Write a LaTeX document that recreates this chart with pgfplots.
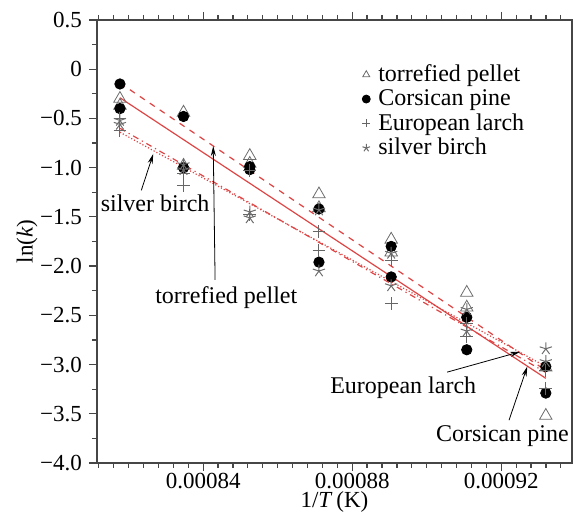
\documentclass[border=0pt]{standalone}
\usepackage{fontspec}
\setmainfont{Liberation Serif}
\usepackage{pgfplots}
\pgfplotsset{compat=1.18}
\usetikzlibrary{arrows.meta,calc}
\definecolor{fitred}{RGB}{222,70,70}
\definecolor{axgray}{RGB}{70,70,70}

% ln(k) against 1/T, two runs per temperature
\pgfplotstableread{
x y
0.00081766 -0.30
0.00081766 -0.37
0.00083472 -0.44
0.00083472 -0.98
0.00085251 -0.88
0.00085251 -0.96
0.00087108 -1.27
0.00087108 -1.41
0.00089047 -1.73
0.00089047 -1.86
0.00091075 -2.27
0.00091075 -2.42
0.00093197 -3.03
0.00093197 -3.52
}\pellet
\pgfplotstableread{
x y
0.00081766 -0.15
0.00081766 -0.40
0.00083472 -0.48
0.00083472 -1.00
0.00085251 -0.99
0.00085251 -1.02
0.00087108 -1.42
0.00087108 -1.96
0.00089047 -1.80
0.00089047 -2.11
0.00091075 -2.52
0.00091075 -2.85
0.00093197 -3.02
0.00093197 -3.29
}\pine
\pgfplotstableread{
x y
0.00081766 -0.62
0.00081766 -0.50
0.00083472 -1.06
0.00083472 -1.18
0.00085251 -1.03
0.00085251 -1.48
0.00087108 -1.65
0.00087108 -1.84
0.00089047 -1.94
0.00089047 -2.38
0.00091075 -2.58
0.00091075 -2.72
0.00093197 -3.06
0.00093197 -3.24
}\larch
\pgfplotstableread{
x y
0.00081766 -0.52
0.00081766 -0.56
0.00083472 -0.97
0.00083472 -1.02
0.00085251 -1.45
0.00085251 -1.51
0.00087108 -1.43
0.00087108 -2.05
0.00089047 -1.87
0.00089047 -2.20
0.00091075 -2.44
0.00091075 -2.66
0.00093197 -2.84
0.00093197 -2.97
}\birch

\begin{document}
\begin{tikzpicture}
\begin{axis}[
    scale only axis,
    width=237.5pt, height=221.5pt,
    xmin=0.0008115, xmax=0.000939,
    ymin=-4, ymax=0.5,
    scaled x ticks=false,
    xtick={0.00084,0.00088,0.00092},
    xticklabels={0.00084,0.00088,0.00092},
    minor xtick={0.000812,0.000816,0.00082,0.000824,0.000828,0.000832,0.000836,
        0.000844,0.000848,0.000852,0.000856,0.00086,0.000864,0.000868,0.000872,0.000876,
        0.000884,0.000888,0.000892,0.000896,0.0009,0.000904,0.000908,0.000912,0.000916,
        0.000924,0.000928,0.000932,0.000936},
    ytick={-4,-3.5,...,0.5},
    yticklabels={−4.0,−3.5,−3.0,−2.5,−2.0,−1.5,−1.0,−0.5,0,0.5},
    minor y tick num=1,
    xtick pos=both, ytick pos=left,
    tick align=outside,
    major tick length=4pt, minor tick length=2.5pt,
    axis line style={axgray, line width=0.8pt},
    tick style={axgray, line width=0.6pt},
    ticklabel style={font=\fontsize{11.5}{13}\selectfont},
    xticklabel style={yshift=1.3pt, inner ysep=2pt},
    xlabel={1/\textit{T}\,(K)},
    ylabel={ln(\textit{k})},
    label style={font=\fontsize{11.5}{13}\selectfont},
    xlabel style={inner sep=0pt, yshift=0.5pt},
    ylabel style={yshift=-5.5pt},
    legend style={draw=none, fill=none, at={(0.545,0.918)}, anchor=north west,
        font=\fontsize{12}{12}\selectfont, row sep=-1.5pt,
        nodes={inner xsep=4pt}},
    legend cell align=left,
    legend image code/.code={\draw[mark size=2pt] plot coordinates {(0.1cm,0cm)};},
]
\addplot[only marks, mark=triangle, mark size=3.6pt, draw=gray!85!black] table {\pellet};
\addlegendentry{torrefied pellet}
\addplot[only marks, mark=*, mark size=2.6pt, black] table {\pine};
\addlegendentry{Corsican pine}
\addplot[only marks, mark=+, mark size=3.2pt, gray!80!black, line width=0.5pt] table {\larch};
\addlegendentry{European larch}
\addplot[only marks, mark=star, mark size=3.2pt, gray!85!black, mark options={line width=0.5pt}] table {\birch};
\addlegendentry{silver birch}

% fitted lines
\addplot[fitred, line width=0.6pt, dashed, forget plot] coordinates {(0.00081766,-0.14) (0.00093197,-3.06)};
\addplot[fitred, line width=0.6pt, forget plot] coordinates {(0.00081766,-0.29) (0.00093197,-3.14)};
\addplot[fitred, line width=0.6pt, dashdotted, forget plot] coordinates {(0.00081766,-0.60) (0.00093197,-3.08)};
\addplot[fitred, line width=0.6pt, densely dotted, forget plot] coordinates {(0.00081766,-0.64) (0.00093197,-3.02)};

% labels with arrows
\node[font=\fontsize{12}{14}\selectfont] at (axis cs:0.0008271,-1.36) {silver birch};
\draw[-{Stealth[length=5pt,width=2.5pt]}, line width=0.4pt] (axis cs:0.0008234,-1.23) -- (axis cs:0.0008266,-0.86);
\node[font=\fontsize{12}{14}\selectfont] at (axis cs:0.0008462,-2.315) {torrefied pellet};
\draw[-{Stealth[length=5pt,width=2.5pt]}, line width=0.4pt] (axis cs:0.0008432,-2.14) -- (axis cs:0.0008427,-0.78);
\node[font=\fontsize{12}{14}\selectfont] at (axis cs:0.0008937,-3.24) {European larch};
\draw[-{Stealth[length=5pt,width=2.5pt]}, line width=0.4pt] (axis cs:0.0009055,-3.077) -- (axis cs:0.0009251,-2.87);
\node[font=\fontsize{12}{14}\selectfont] at (axis cs:0.0009203,-3.728) {Corsican pine};
\draw[-{Stealth[length=5pt,width=2.5pt]}, line width=0.4pt] (axis cs:0.0009221,-3.565) -- (axis cs:0.0009270,-3.02);

\coordinate (sw) at (rel axis cs:0,0);
\coordinate (ne) at (rel axis cs:1,1);
\end{axis}
\pgfresetboundingbox
\path[use as bounding box] ($(sw)+(-48.5pt,-26.5pt)$) rectangle ($(ne)+(6pt,10pt)$);
\end{tikzpicture}
\end{document}
